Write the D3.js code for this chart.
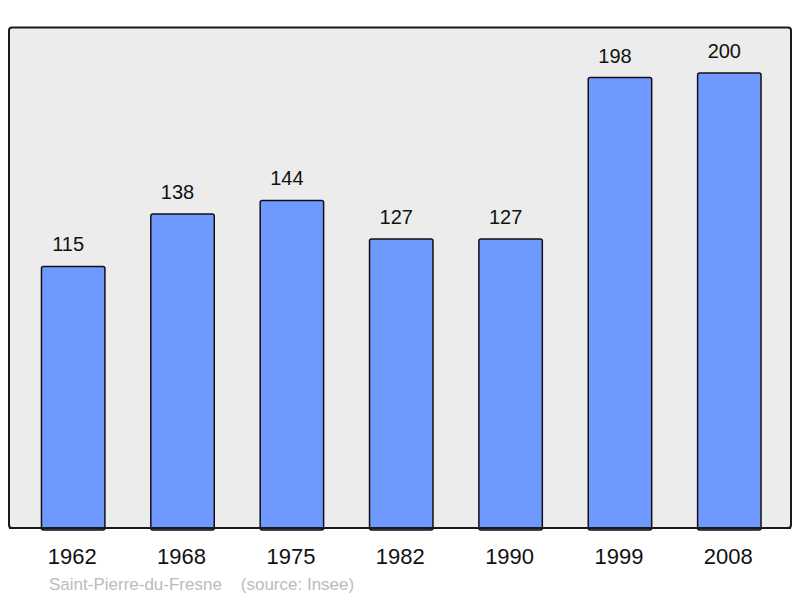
<!DOCTYPE html>
<html>
<head>
<meta charset="utf-8">
<script src="https://cdn.jsdelivr.net/npm/d3@7"></script>
<style>
  body { margin: 0; background: #fff; }
  text { font-family: "Liberation Sans", Arial, sans-serif; }
</style>
</head>
<body>
<script>
'use strict';

// census years and population
const years = ["1962", "1968", "1975", "1982", "1990", "1999", "2008"];
const population = [115, 138, 144, 127, 127, 198, 200];
const commune = "Saint-Pierre-du-Fresne";
const source = "(source: Insee)";

(function() {
  const width = 800, height = 598;

  const svg = d3.select('body')
    .append('svg')
    .attr('width', width)
    .attr('height', height);

  // grey panel
  svg.append('rect')
    .attr('x', 9)
    .attr('y', 27.5)
    .attr('width', 782)
    .attr('height', 500.5)
    .attr('rx', 3)
    .attr('fill', '#ececec')
    .attr('stroke', '#1a1a1a')
    .attr('stroke-width', 2);

  const x = d3.scaleBand()
    .domain(years)
    .range([18.5, 784])
    .paddingInner(0.42)
    .paddingOuter(0.21);

  const y = d3.scaleLinear()
    .domain([0, 220])
    .range([528, 27.5]);

  const rows = years.map((yr, i) => ({ year: yr, value: population[i] }));

  svg.selectAll('.bar')
    .data(rows)
    .enter()
    .append('rect')
      .attr('class', 'bar')
      .attr('x', d => x(d.year))
      .attr('y', d => y(d.value))
      .attr('width', x.bandwidth())
      .attr('height', d => y(0) - y(d.value) + 2)
      .attr('rx', 2)
      .attr('fill', '#7099ff')
      .attr('stroke', '#111')
      .attr('stroke-width', 1.5);

  // redraw the panel bottom edge over the bars
  svg.append('line')
    .attr('x1', 9).attr('x2', 791)
    .attr('y1', 528).attr('y2', 528)
    .attr('stroke', '#1a1a1a')
    .attr('stroke-width', 2);

  // value labels (sit a little left of the bar centre)
  svg.selectAll('.val')
    .data(rows)
    .enter()
    .append('text')
      .attr('x', d => x(d.year) + x.bandwidth() / 2 - 5)
      .attr('y', d => y(d.value) - 15)
      .attr('text-anchor', 'middle')
      .style('font-size', '20px')
      .attr('fill', '#111')
      .text(d => d.value);

  // year axis
  const xAxis = d3.axisBottom(x).tickSize(0).tickPadding(0);
  const gx = svg.append('g')
    .attr('transform', 'translate(-1, 564)')
    .call(xAxis);
  gx.select('.domain').remove();
  gx.selectAll('text')
    .attr('dy', 0)
    .style('font-size', '22px')
    .style('font-family', '"Liberation Sans", Arial, sans-serif')
    .attr('fill', '#111');

  // footer
  svg.append('text')
    .attr('x', 49)
    .attr('y', 590)
    .style('font-size', '17px')
    .attr('fill', '#bbbbbb')
    .attr('xml:space', 'preserve')
    .text(commune + '    ' + source);
})();
</script>
</body>
</html>
